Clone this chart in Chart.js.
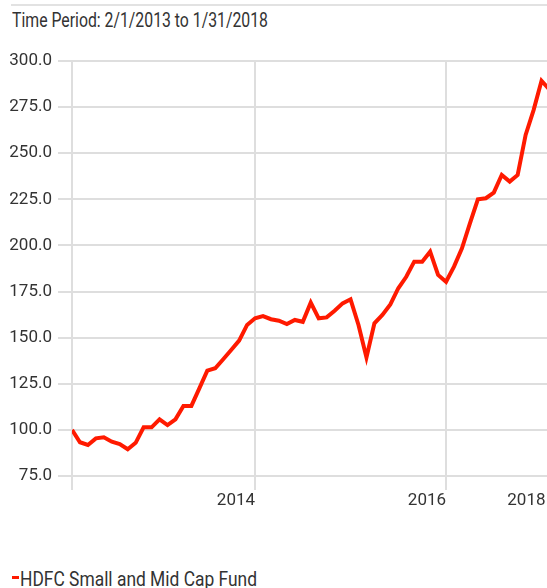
<!DOCTYPE html>
<html>
<head>
<meta charset="utf-8">
<title>HDFC Small and Mid Cap Fund</title>
<script src="https://cdn.jsdelivr.net/npm/chart.js@4.4.1/dist/chart.umd.min.js"></script>
<style>
  html, body { margin: 0; padding: 0; background: #fff; overflow: hidden; width: 547px; height: 588px; }
  body { position: relative; font-family: Roboto, "Liberation Sans", sans-serif; color: #333; }
  .rule { position: absolute; left: 11px; top: 4px; width: 540px; height: 2px; background: #e2e2e2; }
  .period { position: absolute; left: 12px; top: 11px; font-size: 19.5px; line-height: 1; white-space: nowrap; transform-origin: 0 0; }
  .chart-wrap { position: absolute; left: 0; top: 0; width: 560px; height: 510px; }
  .legend { position: absolute; left: 20px; top: 569px; font-size: 20px; line-height: 1; white-space: nowrap; transform-origin: 0 0; }
  .swatch { position: absolute; left: 12px; top: 576px; width: 7px; height: 3px; background: #ff1a00; }
</style>
</head>
<body>
<div class="rule"></div>
<div class="period" data-width="256">Time Period: 2/1/2013 to 1/31/2018</div>
<div class="chart-wrap"><canvas id="js-chart-growth" width="560" height="510"></canvas></div>
<span class="swatch"></span>
<div class="legend" data-width="237">HDFC Small and Mid Cap Fund</div>
<script>
  // Growth of 100, month-end values from Jan 2013 to Jan 2018
  const fundName = 'HDFC Small and Mid Cap Fund';
  const fundValues = [
    100.0, 93.3, 91.8, 95.4, 96.0, 93.6, 92.3, 89.5, 93.0, 101.4, 101.4, 105.7,
    102.6, 105.7, 113.0, 113.0, 122.5, 132.1, 133.4, 138.3, 143.3, 148.4, 156.9, 160.5,
    161.7, 160.0, 159.2, 157.4, 159.6, 158.6, 169.0, 160.5, 161.0, 164.6, 168.6, 170.8,
    156.9, 139.3, 157.8, 162.3, 168.0, 176.8, 183.0, 191.2, 191.2, 196.6, 184.0, 180.3,
    188.5, 198.4, 212.0, 225.0, 225.6, 228.6, 238.2, 234.6, 238.2, 259.9, 273.4, 289.3,
    284.5
  ];

  // Year labels and the month index where each one sits
  const yearLabels = ['2014', '2016', '2018'];
  const yearTickMonths = [23, 47, 59.5];

  const yMin = 75;
  const yMax = 300;
  const yStep = 25;

  const textColor = '#333';
  const gridColor = '#dedede';
  const lineColor = '#ff1a00';
  const fontFamily = 'Roboto, "Liberation Sans", sans-serif';

  // Squeeze the html labels to the condensed look of the original
  document.querySelectorAll('[data-width]').forEach(el => {
    let w = el.getBoundingClientRect().width;
    el.style.transform = 'scaleX(' + (parseFloat(el.dataset.width) / w) + ')';
  });

  let chartCon = document.getElementById('js-chart-growth');

  let chartData = {
    datasets: [
      {
        label: fundName,
        data: fundValues.map((v, i) => ({x: i, y: v})),
        borderColor: lineColor,
        borderWidth: 4,
        pointRadius: 0,
        tension: 0,
        fill: false
      }
    ]
  };

  new Chart(chartCon, {
    type: 'line',
    data: chartData,
    options: {
      responsive: false,
      animation: false,
      devicePixelRatio: 1,
      layout: {
        padding: {top: 61, right: 10.5, bottom: 0, left: 0}
      },
      plugins: {
        legend: {display: false},
        tooltip: {enabled: false}
      },
      scales: {
        x: {
          type: 'linear',
          min: 0,
          max: fundValues.length - 1,
          afterBuildTicks: (scale) => {
            scale.ticks = [{value: 0}].concat(yearTickMonths.map(v => ({value: v})));
          },
          afterFit: (scale) => { scale.height = 34; },
          border: {display: false},
          grid: {
            color: (ctx) => (ctx.tick && ctx.tick.value === yearTickMonths[2]) ? 'transparent' : gridColor,
            lineWidth: 2,
            tickLength: 14
          },
          ticks: {
            autoSkip: false,
            maxRotation: 0,
            align: 'end',
            padding: 1,
            color: textColor,
            font: {family: fontFamily, size: 17},
            callback: function (value) {
              let i = yearTickMonths.indexOf(value);
              return i < 0 ? '' : yearLabels[i];
            }
          }
        },
        y: {
          min: yMin,
          max: yMax,
          afterFit: (scale) => { scale.width = 72; },
          border: {display: false},
          grid: {
            color: gridColor,
            lineWidth: 2,
            tickLength: 14
          },
          ticks: {
            stepSize: yStep,
            padding: 6,
            color: textColor,
            font: {family: fontFamily, size: 17},
            callback: (value) => value.toFixed(1)
          }
        }
      }
    }
  });
</script>
</body>
</html>
